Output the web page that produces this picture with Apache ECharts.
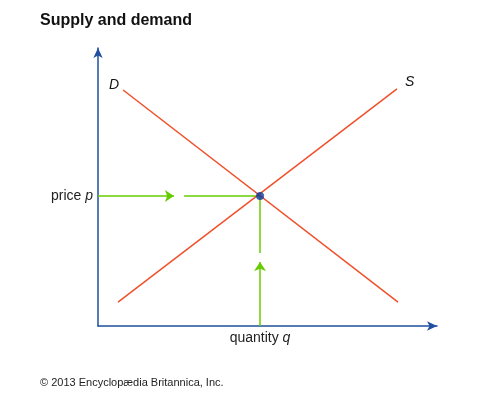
<!DOCTYPE html>
<html>
<head>
<meta charset="utf-8">
<script src="https://cdn.jsdelivr.net/npm/echarts@6/dist/echarts.min.js"></script>
<style>
  html, body { margin: 0; padding: 0; background: #fff; }
  #chart { width: 485px; height: 397px; }
</style>
</head>
<body>
<div id="chart"></div>
<script>
// curves (quantity, price) in 0..100 units
var demand = [[7.4, 84.9], [88.5, 8.6]]
var supply = [[5.9, 8.6], [88.2, 85.3]]
var equilibrium = [47.8, 46.8]
// green guide arrows: first pieces end in an arrowhead, second pieces reach the point
var priceGuide = [[[0, 46.8], [22.4, 46.8]], [[25.4, 46.8], [47.8, 46.8]]]
var qtyGuide = [[[47.8, 0], [47.8, 23.0]], [[47.8, 26.3], [47.8, 46.8]]]

var font = 'Liberation Sans, Arial, Helvetica, sans-serif'
var red = '#f0502a'
var green = '#66cc00'
var blue = '#1f4f9f'

var chart = echarts.init(document.getElementById('chart'))
chart.setOption({
  animation: false,
  title: [
    {
      text: 'Supply and demand',
      left: 35,
      top: 8,
      textStyle: { fontFamily: font, fontSize: 16, fontWeight: 'bold', color: '#111' }
    },
    {
      text: '© 2013 Encyclopædia Britannica, Inc.',
      left: 35,
      top: 372,
      textStyle: { fontFamily: font, fontSize: 11, fontWeight: 'normal', color: '#222' }
    }
  ],
  grid: { left: 98, top: 48, width: 339, height: 278 },
  xAxis: {
    type: 'value',
    min: 0,
    max: 100,
    splitLine: { show: false },
    axisTick: { show: false },
    axisLine: {
      lineStyle: { color: blue, width: 1.5 },
      symbol: ['none', 'arrow'],
      symbolSize: [7, 10]
    },
    axisLabel: {
      customValues: [equilibrium[0]],
      margin: 5,
      formatter: function() { return 'quantity {i|q}' },
      fontFamily: font,
      fontSize: 14,
      color: '#222',
      rich: { i: { fontStyle: 'italic', fontFamily: font, fontSize: 14, color: '#222' } }
    }
  },
  yAxis: {
    type: 'value',
    min: 0,
    max: 100,
    splitLine: { show: false },
    axisTick: { show: false },
    axisLine: {
      lineStyle: { color: blue, width: 1.5 },
      symbol: ['none', 'arrow'],
      symbolSize: [7, 10]
    },
    axisLabel: {
      customValues: [equilibrium[1]],
      margin: 5,
      formatter: function() { return 'price {i|p}' },
      fontFamily: font,
      fontSize: 14,
      color: '#222',
      rich: { i: { fontStyle: 'italic', fontFamily: font, fontSize: 14, color: '#222' } }
    }
  },
  series: [
    {
      name: 'D',
      type: 'line',
      symbol: 'circle',
      symbolSize: 0,
      lineStyle: { color: red, width: 1.5 },
      itemStyle: { color: red },
      data: [
        {
          value: demand[0],
          label: {
            show: true, formatter: 'D', position: 'left', offset: [1, -5],
            fontFamily: font, fontSize: 14, fontStyle: 'italic', color: '#111'
          }
        },
        demand[1]
      ]
    },
    {
      name: 'S',
      type: 'line',
      symbol: 'circle',
      symbolSize: 0,
      lineStyle: { color: red, width: 1.5 },
      itemStyle: { color: red },
      data: [
        supply[0],
        {
          value: supply[1],
          label: {
            show: true, formatter: 'S', position: 'right', offset: [3, -7],
            fontFamily: font, fontSize: 14, fontStyle: 'italic', color: '#111'
          }
        }
      ]
    },
    {
      type: 'lines',
      coordinateSystem: 'cartesian2d',
      symbol: ['none', 'arrow'],
      symbolSize: 9,
      lineStyle: { color: green, width: 1.5, opacity: 1 },
      data: [{ coords: priceGuide[0] }, { coords: qtyGuide[0] }]
    },
    {
      type: 'lines',
      coordinateSystem: 'cartesian2d',
      symbol: ['none', 'none'],
      lineStyle: { color: green, width: 1.5, opacity: 1 },
      data: [{ coords: priceGuide[1] }, { coords: qtyGuide[1] }]
    },
    {
      type: 'scatter',
      symbolSize: 8,
      itemStyle: { color: '#0a3a9c' },
      data: [equilibrium],
      z: 5
    }
  ]
})
</script>
</body>
</html>
